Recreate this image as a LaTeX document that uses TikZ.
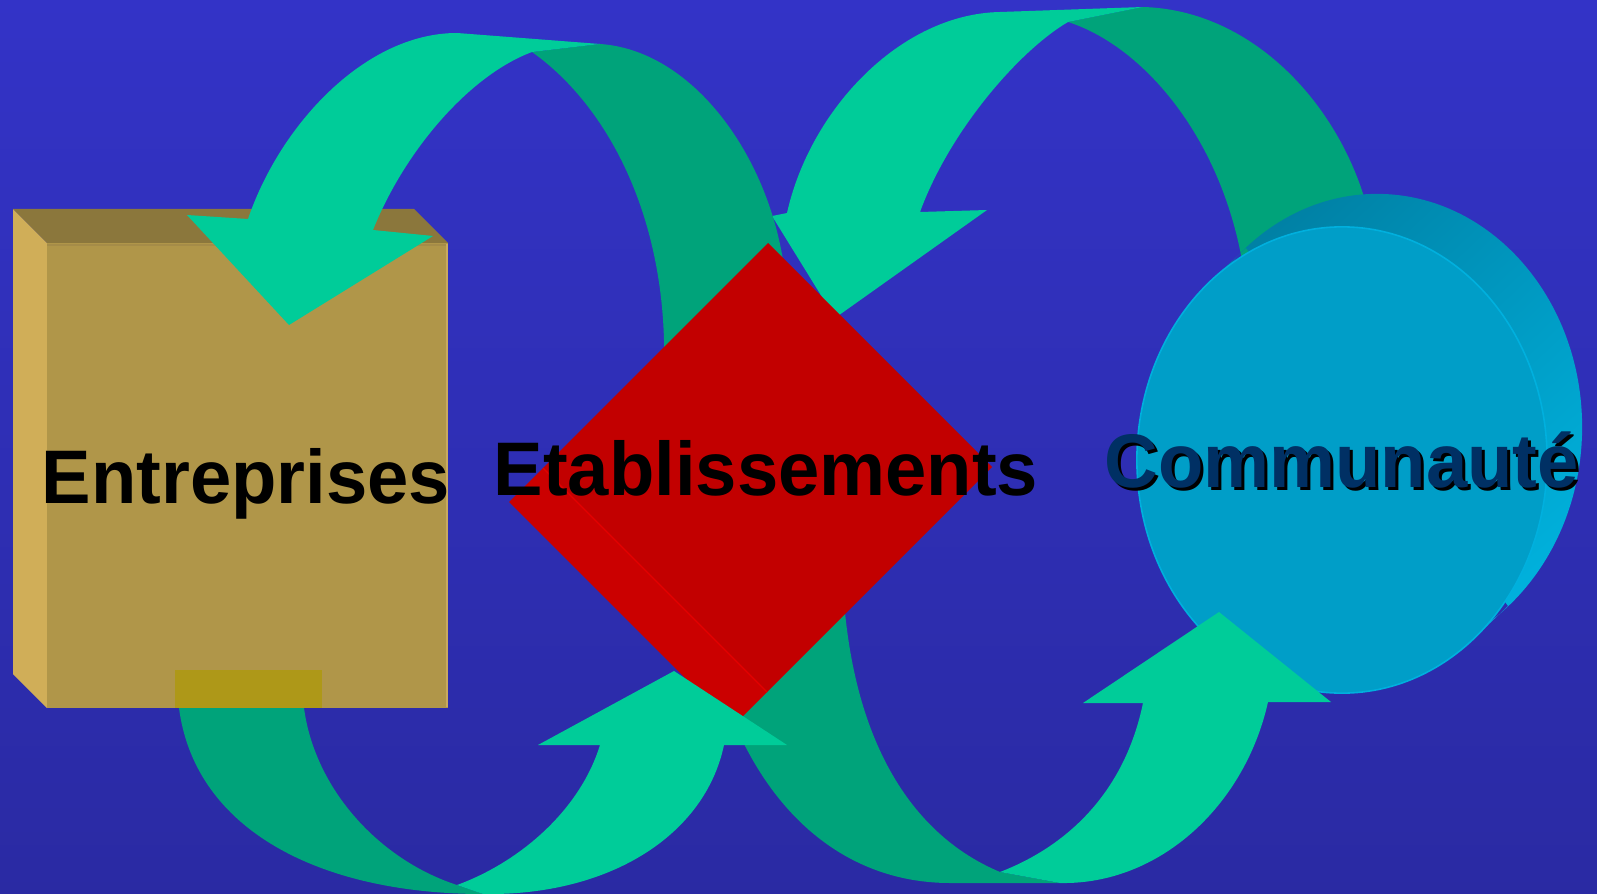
\documentclass[tikz,border=0pt]{standalone}
\usepackage{fontspec}
\setmainfont{Liberation Sans}
\usepackage{graphicx}
\usetikzlibrary{shadings}
\definecolor{bgTop}{RGB}{51,51,199}
\definecolor{bgBot}{RGB}{42,42,163}
\definecolor{arrLight}{RGB}{0,204,153}
\definecolor{arrDark}{RGB}{0,163,122}
\definecolor{boxFront}{RGB}{176,150,73}
\definecolor{boxTop}{RGB}{139,119,60}
\definecolor{boxLeft}{RGB}{208,174,88}
\definecolor{boxTab}{RGB}{174,152,24}
\definecolor{boxEdge}{RGB}{200,170,95}
\definecolor{boxTopEdge}{RGB}{165,140,72}
\definecolor{diaFront}{RGB}{194,0,0}
\definecolor{diaSide}{RGB}{203,0,0}
\definecolor{diaLine}{RGB}{228,0,0}
\definecolor{cylFront}{RGB}{0,158,200}
\definecolor{cylRim}{RGB}{0,176,222}
\definecolor{cylUL}{RGB}{0,118,152}
\definecolor{cylUR}{RGB}{0,150,190}
\definecolor{cylLL}{RGB}{0,160,205}
\definecolor{cylLR}{RGB}{0,186,230}
\definecolor{comNavy}{RGB}{0,48,100}
\tikzset{
  lightArrow/.style={fill=arrLight},
  darkArrow/.style={fill=arrDark},
  lbl/.style={inner sep=0pt, font=\fontsize{21.6pt}{26pt}\selectfont\bfseries, text=black}
}
\newcommand{\lblscale}[1]{\scalebox{0.977}[1]{#1}}
\begin{document}
\begin{tikzpicture}[x=0.01cm, y=-0.01cm]
\useasboundingbox (0,0) rectangle (1597,894);
\shade[top color=bgTop, bottom color=bgBot] (0,0) rectangle (1597,894);

% ---- arrow C (top right): dark back, light front with head
\path[darkArrow] (1143,7) .. controls (1250,10) and (1335,100) .. (1365,200) -- (1380,300) -- (1250,300) -- (1240,250) .. controls (1215,130) and (1140,45) .. (1068,22) -- cycle;
\path[lightArrow] (1143,7) -- (1000,12) .. controls (900,14) and (810,110) .. (787,213) -- (772,216) -- (835,318) -- (987,210) -- (920,212) .. controls (950,130) and (1020,50) .. (1068,22) -- cycle;

% ---- arrow A (top left): dark back part
\path[darkArrow] (600,44) .. controls (690,50) and (765,150) .. (783,260) -- (795,400) -- (664,400) -- (664,340) .. controls (660,200) and (600,100) .. (532,52) -- cycle;

% ---- arrow D (bottom right): dark back part
\path[darkArrow] (700,600) .. controls (730,790) and (830,883) .. (950,883) -- (1060,883) -- (1000,872) .. controls (900,830) and (845,720) .. (842,560) -- cycle;

% ---- Communaute cylinder
\shade[upper left=cylUL, upper right=cylUR, lower left=cylLL, lower right=cylLR]
  (1377,427) ellipse [x radius=2.05cm, y radius=2.33cm]
  (1211,281) -- (1246,248) -- (1508,606) -- (1473,639) -- cycle;
\path[fill=cylFront, draw=cylRim, line width=0.45pt] (1342,460) ellipse [x radius=2.05cm, y radius=2.33cm];

% ---- Etablissements diamond
\path[fill=diaSide] (543,468) -- (767,692) -- (733,726) -- (509,502) -- cycle;
\path[fill=diaFront] (768,243) -- (992,467) -- (767,692) -- (543,468) -- cycle;
\draw[diaLine, line width=0.35pt] (543,468) -- (767,692);

% ---- arrow B (bottom left): dark back part
\path[darkArrow] (179,700) -- (179,708) .. controls (195,830) and (320,894) .. (483,894) -- (457,885) .. controls (380,860) and (315,790) .. (304,708) -- (304,700) -- cycle;

% ---- Entreprises box
\path[fill=boxLeft] (13,209) -- (47,243) -- (47,708) -- (13,674) -- cycle;
\path[fill=boxTop] (13,209) -- (414,209) -- (448,243) -- (47,243) -- cycle;
\path[fill=boxFront] (47,243) rectangle (448,708);
\draw[boxTopEdge, line width=0.6pt] (47,245) -- (446,245);
\draw[boxEdge, line width=0.6pt] (447,244) -- (447,707);
\path[fill=boxTab] (175,670) rectangle (322,708);

% ---- arrow A light front with head
\path[lightArrow] (600,44) -- (457,33) .. controls (365,33) and (280,125) .. (248,219) -- (187,215) -- (289,325) -- (433,236) -- (373,230) .. controls (405,150) and (470,75) .. (532,52) -- cycle;

% ---- arrow B light front with head
\path[lightArrow] (457,885) -- (483,894) .. controls (610,896) and (705,835) .. (724,745) -- (787,745) -- (674,671) -- (538,745) -- (600,745) .. controls (580,810) and (520,862) .. (457,885) -- cycle;

% ---- arrow D light front with head
\path[lightArrow] (1000,872) -- (1060,883) .. controls (1160,885) and (1245,805) .. (1268,702) -- (1331,702) -- (1219,612) -- (1083,703) -- (1143,703) .. controls (1125,790) and (1070,845) .. (1000,872) -- cycle;

% ---- labels
\node[lbl, anchor=base west] (ent) at (41,503) {\lblscale{Entreprises}};
\node[lbl, anchor=base west] (eta) at (493,495) {\lblscale{Etablissements}};
\node[lbl, anchor=base west, text=black] (comShadow) at (1107,490) {\lblscale{Communauté}};
\node[lbl, anchor=base west, text=comNavy] (com) at (1104,487) {\lblscale{Communauté}};
\end{tikzpicture}
\end{document}
